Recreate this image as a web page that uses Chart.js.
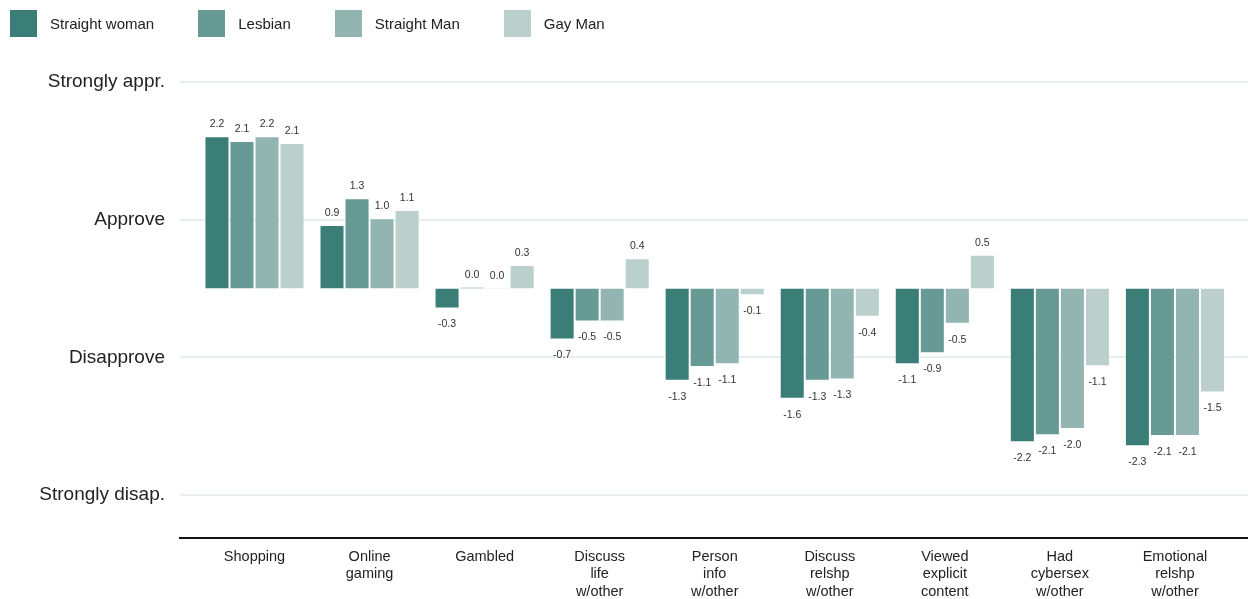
<!DOCTYPE html>
<html>
<head>
<meta charset="utf-8">
<script src="https://cdn.jsdelivr.net/npm/chart.js@4.4.1/dist/chart.umd.min.js"></script>
<style>
    body { margin: 0; background: #fff; font-family: 'Liberation Sans', Arial, sans-serif; }
    #wrap { position: relative; width: 1248px; height: 599px; }
    #legend { position: absolute; left: 10px; top: 10px; display: flex; gap: 44px; }
    .item { display: flex; align-items: center; height: 27px; }
    .box { width: 27px; height: 27px; margin-right: 13px; }
    .lbl { font-size: 15px; color: #222; }
</style>
</head>
<body>
<div id="wrap">
    <canvas id="chart" width="1248" height="599"></canvas>
    <div id="legend"></div>
</div>
<script>
// Approval of online activities, by group

const categories = [
    ['Shopping'],
    ['Online', 'gaming'],
    ['Gambled'],
    ['Discuss', 'life', 'w/other'],
    ['Person', 'info', 'w/other'],
    ['Discuss', 'relshp', 'w/other'],
    ['Viewed', 'explicit', 'content'],
    ['Had', 'cybersex', 'w/other'],
    ['Emotional', 'relshp', 'w/other']
];

const straightWoman = [2.21, 0.92, -0.29, -0.74, -1.34, -1.60, -1.10, -2.23, -2.29];
const lesbian       = [2.14, 1.31, 0.02, -0.48, -1.14, -1.34, -0.94, -2.13, -2.14];
const straightMan   = [2.21, 1.02, 0.01, -0.48, -1.10, -1.32, -0.51, -2.04, -2.14];
const gayMan        = [2.11, 1.14, 0.34, 0.44, -0.10, -0.41, 0.49, -1.13, -1.51];

const seriesNames = ['Straight woman', 'Lesbian', 'Straight Man', 'Gay Man'];
const seriesColors = ['#3a7e77', '#679a95', '#93b5b1', '#bbcfcd'];

const yTickValues = [3, 1, -1, -3];
const yTickLabels = ['Strongly appr.', 'Approve', 'Disapprove', 'Strongly disap.'];

const FONT = "'Liberation Sans', Arial, sans-serif";

// html legend
const legendEl = document.getElementById('legend');
seriesNames.forEach((name, i) => {
    const item = document.createElement('div');
    item.className = 'item';
    item.innerHTML = '<span class="box" style="background:' + seriesColors[i] + '"></span><span class="lbl">' + name + '</span>';
    legendEl.appendChild(item);
});

// value labels above / below each bar
const valueLabels = {
    id: 'valueLabels',
    afterDatasetsDraw(chart) {
        const ctx = chart.ctx;
        ctx.save();
        ctx.font = '10.5px ' + FONT;
        ctx.fillStyle = '#333';
        ctx.textAlign = 'center';
        ctx.textBaseline = 'middle';
        chart.data.datasets.forEach((ds, di) => {
            const meta = chart.getDatasetMeta(di);
            meta.data.forEach((bar, i) => {
                const v = ds.data[i].y;
                const y = v >= 0 ? bar.y - 12 : bar.y + 16;
                ctx.fillText(v.toFixed(1), bar.x, y);
            });
        });
        ctx.restore();
    }
};

const allSeries = [straightWoman, lesbian, straightMan, gayMan];

new Chart(document.getElementById('chart'), {
    type: 'bar',
    data: {
        datasets: allSeries.map((vals, s) => ({
            label: seriesNames[s],
            data: vals.map((v, i) => ({ x: i + 1, y: v })),
            backgroundColor: seriesColors[s],
            borderColor: 'rgba(255,255,255,0.2)',
            borderWidth: 1,
            categoryPercentage: 0.87,
            barPercentage: 1.0
        }))
    },
    options: {
        responsive: false,
        animation: false,
        layout: { padding: { top: 61, left: 0, right: 0, bottom: 0 } },
        plugins: {
            legend: { display: false },
            tooltip: { enabled: false }
        },
        scales: {
            x: {
                type: 'linear',
                offset: false,
                min: 0.3525,
                max: 9.635,
                afterBuildTicks: function(scale) {
                    scale.ticks = categories.map((c, i) => ({ value: i + 1 }));
                },
                afterFit: function(scale) {
                    scale.height = 61;
                },
                ticks: {
                    autoSkip: false,
                    maxRotation: 0,
                    padding: 10,
                    color: '#222',
                    font: { family: FONT, size: 14.5, lineHeight: 1.2 },
                    callback: function(value, index) {
                        return categories[index];
                    }
                },
                grid: { display: false, drawTicks: false },
                border: { display: true, color: '#111', width: 2 }
            },
            y: {
                min: -3.62,
                max: 3.3,
                afterBuildTicks: function(scale) {
                    scale.ticks = yTickValues.map(v => ({ value: v }));
                },
                afterFit: function(scale) {
                    scale.width = 180;
                },
                ticks: {
                    padding: 15,
                    color: '#222',
                    font: { family: FONT, size: 19 },
                    callback: function(value) {
                        return yTickLabels[yTickValues.indexOf(value)];
                    }
                },
                grid: { color: '#e8f0ee', lineWidth: 2, drawTicks: false },
                border: { display: false }
            }
        }
    },
    plugins: [valueLabels]
});
</script>
</body>
</html>
